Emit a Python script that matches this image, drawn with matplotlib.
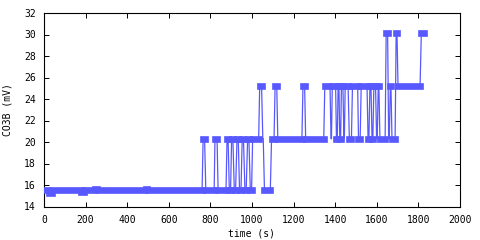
import matplotlib
matplotlib.use('Agg')
import matplotlib.pyplot as plt

# Step segments: start time (s), end time (s), level (mV)
seg_start = [0, 22, 42, 180, 196, 245, 258, 488, 500,
             765, 778, 822, 837, 880, 891, 902, 915, 928, 940, 953, 966, 979, 992,
             1003, 1037, 1052, 1060, 1094, 1111, 1124, 1245, 1258,
             1350, 1380, 1386, 1406, 1414, 1422, 1430, 1442, 1448, 1468, 1483,
             1512, 1525, 1558, 1567, 1577, 1586, 1599, 1607, 1615,
             1645, 1657, 1665, 1673, 1693, 1702, 1814]
seg_end = [18, 38, 176, 192, 241, 254, 484, 496, 760,
           772, 818, 832, 875, 885, 897, 908, 921, 934, 947, 959, 972, 985, 998,
           1032, 1046, 1054, 1088, 1106, 1119, 1240, 1253, 1345,
           1375, 1382, 1402, 1410, 1418, 1426, 1437, 1444, 1462, 1478, 1508,
           1520, 1553, 1562, 1572, 1581, 1594, 1602, 1610, 1640,
           1652, 1660, 1668, 1688, 1697, 1808, 1828]
seg_level = [15.5, 15.3, 15.5, 15.35, 15.5, 15.65, 15.5, 15.65, 15.5,
             20.3, 15.5, 20.3, 15.5, 20.3, 15.5, 20.3, 15.5, 20.3, 15.5, 20.3, 15.5, 20.3, 15.5,
             20.3, 25.2, 20.3, 15.5, 20.3, 25.2, 20.3, 25.2, 20.3,
             25.2, 20.3, 25.2, 20.3, 25.2, 20.3, 25.2, 20.3, 25.2, 20.3, 25.2,
             20.3, 25.2, 20.3, 25.2, 20.3, 25.2, 20.3, 25.2, 20.3,
             30.1, 20.3, 25.2, 20.3, 30.1, 25.2, 30.1]

color = '#5858ff'
plt.rcParams['font.family'] = ['DejaVu Sans Mono']
plt.rcParams['font.size'] = 7

fig = plt.figure(figsize=(4.8, 2.4), dpi=100)
ax = fig.add_axes([44 / 480, 33.5 / 240, 416 / 480, 193.5 / 240])

# thin connecting line through every segment end point
path_t = []
path_v = []
for s, e, v in zip(seg_start, seg_end, seg_level):
    path_t += [s, e]
    path_v += [v, v]
ax.plot(path_t, path_v, color=color, lw=0.9, zorder=2)

# dense square markers look like a thick band along each run
band = ax.hlines(seg_level, seg_start, seg_end, colors=color, lw=4.8, zorder=3)
band.set_capstyle('projecting')

ax.set_xlim(0, 2000)
ax.set_ylim(14, 32)
ax.set_xticks(range(0, 2001, 200))
ax.set_yticks(range(14, 33, 2))
ax.tick_params(direction='in', length=3.6, width=0.7, top=True, right=True,
               labelsize=7, pad=6)
for sp in ax.spines.values():
    sp.set_linewidth(0.8)

ax.set_xlabel('time (s)', fontsize=7)
ax.set_ylabel('CO3B (mV)', fontsize=7)
ax.xaxis.set_label_coords(0.5, -0.115)
ax.yaxis.set_label_coords(-0.075, 0.5)

fig.savefig('out.png', dpi=100)
